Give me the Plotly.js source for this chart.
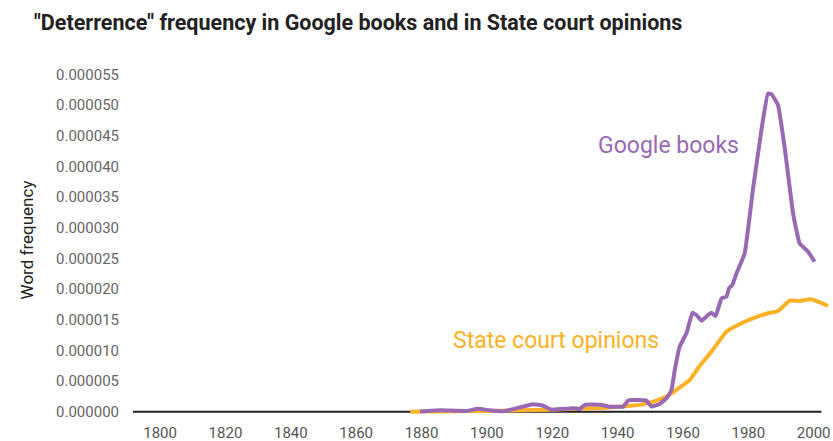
<!DOCTYPE html>
<html>
<head>
<meta charset="utf-8">
<script src="https://cdn.plot.ly/plotly-3.0.1.min.js"></script>
<style>html,body{margin:0;padding:0;background:#fff;}#chart{width:833px;height:441px;}</style>
</head>
<body>
<div id="chart"></div>
<script>
// Google books series (year, frequency)
const googleYears = [1879.5, 1885.6, 1893.8, 1897.2, 1900.9, 1905.0, 1908.0, 1912.1, 1914.2, 1917.2,
  1919.8, 1922.3, 1926.4, 1928.4, 1930.0, 1934.6, 1937.6, 1941.7, 1943.2, 1944.7,
  1948.8, 1950.4, 1952.9, 1955.0, 1956.5, 1957.5, 1959.0, 1961.1, 1962.9, 1964.1,
  1965.7, 1967.7, 1968.7, 1970.0, 1971.8, 1973.3, 1974.1, 1975.1, 1976.4, 1978.9,
  1981.4, 1984.0, 1986.0, 1987.1, 1989.1, 1991.1, 1993.7, 1995.7, 1998.3, 2000.3];
const googleFreq = [0.05e-6, 0.25e-6, 0.15e-6, 0.5e-6, 0.25e-6, 0.1e-6, 0.45e-6, 1.0e-6, 1.25e-6, 1.0e-6,
  0.35e-6, 0.45e-6, 0.6e-6, 0.45e-6, 1.15e-6, 1.15e-6, 0.85e-6, 0.85e-6, 1.85e-6, 1.95e-6,
  1.84e-6, 0.86e-6, 1.3e-6, 2.23e-6, 3.58e-6, 6.83e-6, 10.63e-6, 12.86e-6, 16.16e-6, 15.79e-6,
  14.86e-6, 15.79e-6, 16.16e-6, 15.62e-6, 18.5e-6, 18.76e-6, 20.13e-6, 20.67e-6, 22.57e-6, 25.83e-6,
  36.13e-6, 45.89e-6, 51.86e-6, 51.75e-6, 49.96e-6, 43.17e-6, 32.34e-6, 27.45e-6, 26.09e-6, 24.46e-6];

// State court opinions series
const courtYears = [1876.5, 1880, 1890, 1900, 1910, 1920, 1930, 1936.6, 1940, 1944,
  1946.8, 1950.9, 1955.0, 1958.0, 1962.1, 1964.6, 1968.7, 1973.3, 1977.4, 1981.4,
  1986.0, 1989.1, 1992.7, 1995.7, 1999.3, 2001.3, 2004.4];
const courtFreq = [0, 0.05e-6, 0.1e-6, 0.15e-6, 0.25e-6, 0.35e-6, 0.55e-6, 0.65e-6, 0.85e-6, 1.0e-6,
  1.14e-6, 1.68e-6, 2.49e-6, 3.58e-6, 5.21e-6, 7.11e-6, 9.81e-6, 13.07e-6, 14.32e-6, 15.25e-6,
  16.06e-6, 16.44e-6, 18.11e-6, 18.06e-6, 18.34e-6, 17.95e-6, 17.25e-6];

const xTickVals = [1800, 1820, 1840, 1860, 1880, 1900, 1920, 1940, 1960, 1980, 2000];
const seriesNames = ["Google books", "State court opinions"];
const purple = "#9a69b4";
const orange = "#fdb124";

const traces = [
  {x: courtYears, y: courtFreq, type: "scatter", mode: "lines", name: seriesNames[1],
   line: {color: orange, width: 4, shape: "spline", smoothing: 0.4}, hoverinfo: "x+y"},
  {x: googleYears, y: googleFreq, type: "scatter", mode: "lines", name: seriesNames[0],
   line: {color: purple, width: 4, shape: "spline", smoothing: 0.3}, hoverinfo: "x+y"}
];

const layout = {
  width: 833, height: 441,
  margin: {l: 133, r: 3, t: 62, b: 23},
  paper_bgcolor: "#fff", plot_bgcolor: "#fff",
  showlegend: false,
  font: {family: "Roboto, 'Open Sans', sans-serif", color: "#555"},
  title: {
    text: "<b>\"Deterrence\" frequency in Google books and in State court opinions</b>",
    x: 34/833, xref: "container", xanchor: "left",
    y: 1 - 22/441, yref: "container", yanchor: "middle",
    font: {family: "Roboto, sans-serif", size: 21.5, color: "#222"}
  },
  xaxis: {
    range: [1791.7, 2005], tickvals: xTickVals, ticktext: xTickVals.map(String),
    showgrid: false, zeroline: false, showline: false,
    ticks: "outside", ticklen: 1, tickcolor: "rgba(0,0,0,0)",
    tickfont: {size: 15, color: "#555"}, fixedrange: true
  },
  yaxis: {
    range: [-1e-6, 57e-6], dtick: 5e-6, tick0: 0, tickformat: ".6f",
    showgrid: false, zeroline: false, showline: false,
    ticks: "outside", ticklen: 10, tickcolor: "rgba(0,0,0,0)",
    tickfont: {size: 15, color: "#666"},
    title: {text: "Word frequency", font: {size: 17, color: "#222"}, standoff: 18},
    fixedrange: true
  },
  shapes: [
    {type: "line", xref: "x", yref: "y", x0: 1791.7, x1: 2002.4, y0: 0, y1: 0,
     line: {color: "#222", width: 2}, layer: "below"}
  ],
  annotations: [
    {text: seriesNames[0], x: 1955.7, y: 43.45e-6, xref: "x", yref: "y", showarrow: false,
     font: {size: 23, color: purple}, xanchor: "center", yanchor: "middle"},
    {text: seriesNames[1], x: 1921.1, y: 11.7e-6, xref: "x", yref: "y", showarrow: false,
     font: {size: 23, color: orange}, xanchor: "center", yanchor: "middle"}
  ]
};

Plotly.newPlot("chart", traces, layout, {displayModeBar: false, staticPlot: true});
</script>
</body>
</html>
